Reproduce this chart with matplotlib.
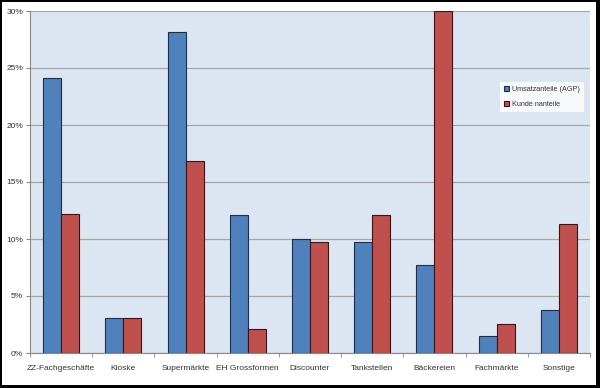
import numpy as np
import matplotlib
matplotlib.use("Agg")
import matplotlib.pyplot as plt
from matplotlib.patches import Rectangle
from matplotlib.ticker import FuncFormatter

categories = ["ZZ-Fachgeschäfte", "Kioske", "Supermärkte", "EH Grossformen", "Discounter",
              "Tankstellen", "Bäckereien", "Fachmärkte", "Sonstige"]
umsatz = [24.1, 3.1, 28.2, 12.1, 10.0, 9.7, 7.75, 1.5, 3.75]
kunden = [12.2, 3.1, 16.8, 2.1, 9.75, 12.1, 30.0, 2.55, 11.35]
series_labels = ["Umsatzanteile (AGP)", "Kunde nanteile"]

plt.rcParams['font.family'] = ['Liberation Sans', 'DejaVu Sans']

fig = plt.figure(figsize=(6, 3.88), dpi=100)
fig.patch.set_facecolor("white")
ax = fig.add_axes([30 / 600, 35 / 388, 560 / 600, 342 / 388])
ax.set_facecolor("#dce6f2")

x = np.arange(len(categories))
w = 0.29
ax.bar(x - w / 2, umsatz, w, color="#4f81bd", edgecolor="#1f2f45", linewidth=0.8,
       label=series_labels[0], zorder=3)
ax.bar(x + w / 2, kunden, w, color="#c0504d", edgecolor="#3a1514", linewidth=0.8,
       label=series_labels[1], zorder=3)

ax.set_xlim(-0.5, len(categories) - 0.5)
ax.set_ylim(0, 30)
ax.set_yticks(np.arange(0, 31, 5))
ax.yaxis.set_major_formatter(FuncFormatter(lambda v, p: f"{int(v)}%"))
ax.grid(axis="y", color="#a6a6a6", linewidth=0.9, zorder=0)

ax.set_xticks(x)
ax.set_xticklabels(categories)
ax.set_xticks(np.arange(-0.5, len(categories)), minor=True)
ax.tick_params(axis="x", which="major", length=0, labelsize=6, pad=9, labelcolor="#333333")
ax.tick_params(axis="x", which="minor", length=3, color="#888888")
ax.tick_params(axis="y", length=3, color="#888888", labelsize=6, pad=2, labelcolor="#333333")

for s in ["top", "right"]:
    ax.spines[s].set_visible(False)
for s in ["left", "bottom"]:
    ax.spines[s].set_color("#888888")
    ax.spines[s].set_linewidth(0.8)

leg = ax.legend(loc="upper left", bbox_to_anchor=(470 / 560, 1 - 71 / 342), fontsize=5.2,
                frameon=True, fancybox=False, handlelength=0.7, handleheight=0.7,
                handletextpad=0.3, borderpad=0.6, labelspacing=1.0, borderaxespad=0,
                labelcolor="#333333")
leg.get_frame().set_edgecolor("white")
leg.get_frame().set_facecolor("white")
leg.get_frame().set_linewidth(0)

# black frame around the whole picture, heavier on right and bottom
fig.patches.append(Rectangle((0.0, 0.0), 0.003, 1.0, transform=fig.transFigure,
                             facecolor="black", edgecolor="none"))
fig.patches.append(Rectangle((0.0, 0.995), 1.0, 0.005, transform=fig.transFigure,
                             facecolor="black", edgecolor="none"))
fig.patches.append(Rectangle((0.993, 0.0), 0.007, 1.0, transform=fig.transFigure,
                             facecolor="black", edgecolor="none"))
fig.patches.append(Rectangle((0.0, 0.0), 1.0, 0.009, transform=fig.transFigure,
                             facecolor="black", edgecolor="none"))

fig.savefig("out.png", dpi=100)
